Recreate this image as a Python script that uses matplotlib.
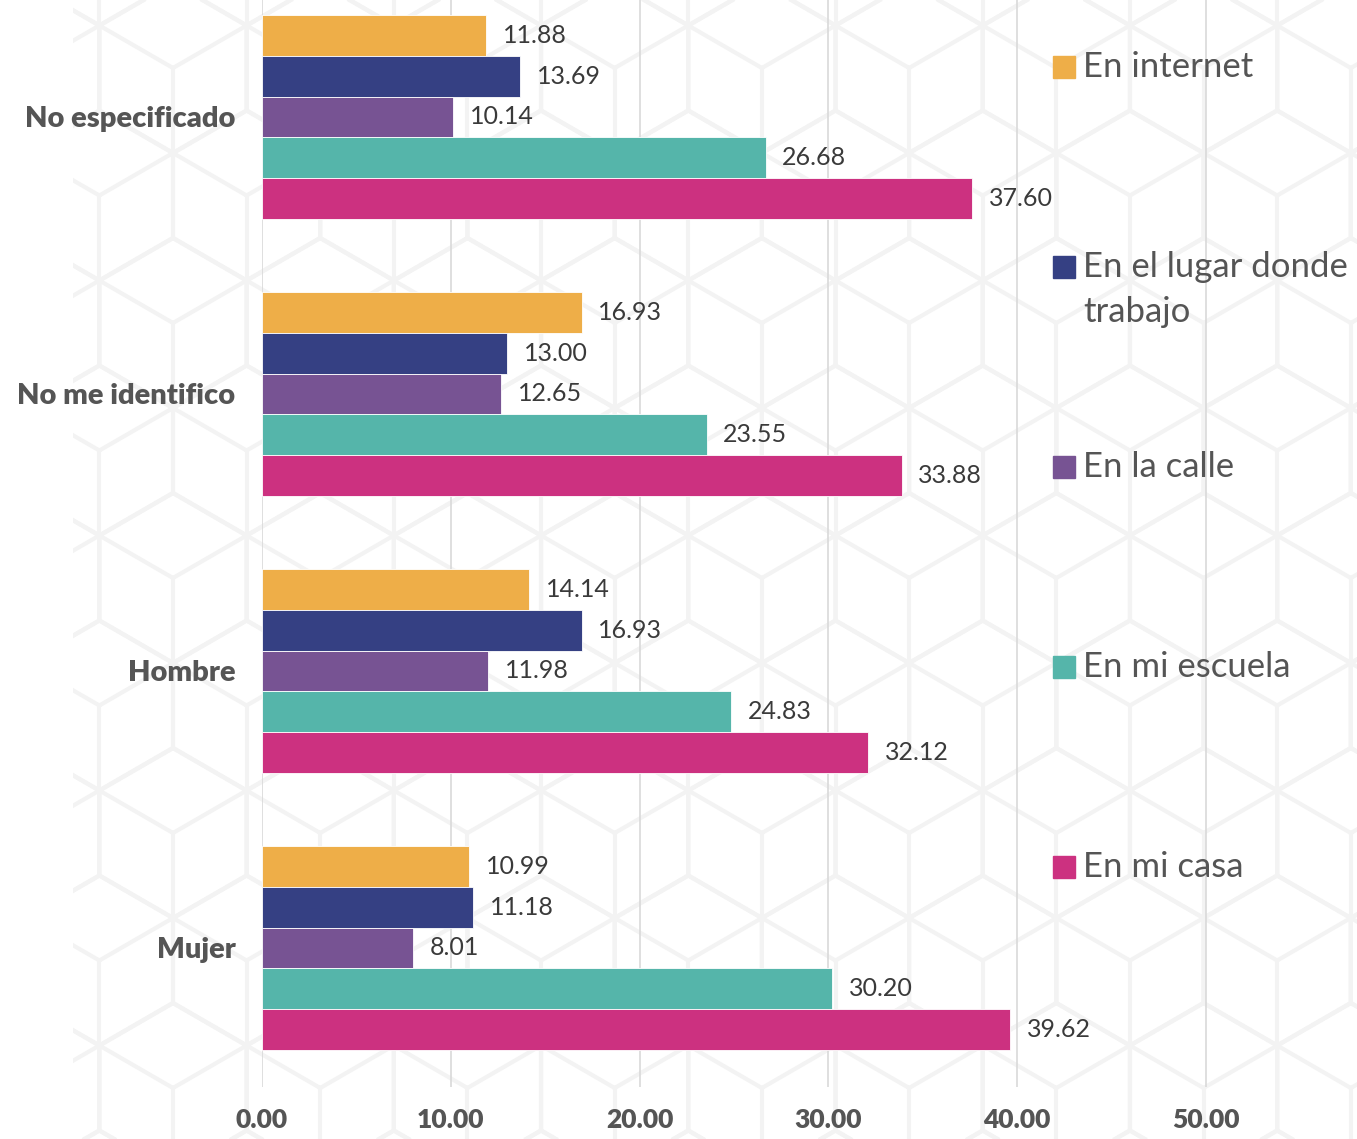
import numpy as np
import matplotlib
matplotlib.use("Agg")
import matplotlib.pyplot as plt
from matplotlib.patches import Rectangle

plt.rcParams['font.family'] = ['Lato', 'DejaVu Sans']

# datos (de abajo hacia arriba)
categorias = ["Mujer", "Hombre", "No me identifico", "No especificado"]
series = ["En internet", "En el lugar donde\ntrabajo", "En la calle", "En mi escuela", "En mi casa"]
en_internet = [10.99, 14.14, 16.93, 11.88]
en_trabajo = [11.18, 16.93, 13.00, 13.69]
en_calle = [8.01, 11.98, 12.65, 10.14]
en_escuela = [30.20, 24.83, 23.55, 26.68]
en_casa = [39.62, 32.12, 33.88, 37.60]
valores = [en_internet, en_trabajo, en_calle, en_escuela, en_casa]
colores = ["#EEAE48", "#354083", "#775393", "#55B5AA", "#CC3180"]
xticks = [0, 10, 20, 30, 40, 50]

W, H = 1357, 1139
fig = plt.figure(figsize=(W / 100, H / 100), dpi=100)

# fondo con patron de cubos
bg = fig.add_axes([0, 0, 1, 1], zorder=-1)
bg.set_xlim(0, W)
bg.set_ylim(H, 0)
bg.axis('off')
s = 85.0
w = np.sqrt(3) * s
clip = Rectangle((73, 0), W - 73, H, transform=bg.transData, visible=False)
bg.add_patch(clip)
ang = np.radians([90, 30, -30, -90, -150, 150])
cx0, cy0 = 173.0, 578.0
gris_fondo = "#F3F3F3"
for r in range(-6, 8):
    cy = cy0 + r * 1.5 * s
    off = (r % 2) * w / 2
    for c in range(-3, 12):
        cx = cx0 + off + c * w
        vx = cx + s * np.cos(ang)
        vy = cy - s * np.sin(ang)
        ln, = bg.plot(np.append(vx, vx[0]), np.append(vy, vy[0]), color=gris_fondo, lw=3, solid_capstyle='butt')
        ln.set_clip_path(clip)
        for k in (5, 1, 3):
            sp, = bg.plot([cx, vx[k]], [cy, vy[k]], color=gris_fondo, lw=3)
            sp.set_clip_path(clip)

ax = fig.add_axes([262 / W, 52 / H, (W - 262) / W, 1087 / H])
ax.set_facecolor('none')

y = np.arange(len(categorias))
h = 0.147
for i, (vals, col) in enumerate(zip(valores, colores)):
    bars = ax.barh(y + (2 - i) * h, vals, height=h, color=col, edgecolor='white', linewidth=0.6, zorder=3)
    ax.bar_label(bars, fmt='%.2f', padding=12, fontsize=18, color="#3A3A3A")

ax.set_xlim(0, 58)
ax.set_ylim(-0.502, 3.422)
ax.set_xticks(xticks)
ax.set_xticklabels([f"{t:.2f}" for t in xticks], fontsize=19, fontweight='heavy', color="#555555")
ax.set_yticks(y)
ax.set_yticklabels(categorias, fontsize=21, fontweight='heavy', color="#555555")
ax.tick_params(axis='x', length=0, pad=15)
ax.tick_params(axis='y', length=0, pad=19)
ax.grid(axis='x', color="#D9D9D9", lw=1.2, zorder=0)
for sp in ax.spines.values():
    sp.set_visible(False)

# leyenda a mano
for i, (nombre, col) in enumerate(zip(series, colores)):
    yc = 67 + i * 200
    fig.patches.append(Rectangle((1053 / W, 1 - (yc + 11) / H), 22 / W, 22 / H,
                                 transform=fig.transFigure, color=col, figure=fig))
    for j, linea in enumerate(nombre.split("\n")):
        fig.text(1083 / W, 1 - (yc + j * 45) / H, linea, fontsize=25, color="#555555",
                 va='center', ha='left')

fig.savefig("out.png", dpi=100)
